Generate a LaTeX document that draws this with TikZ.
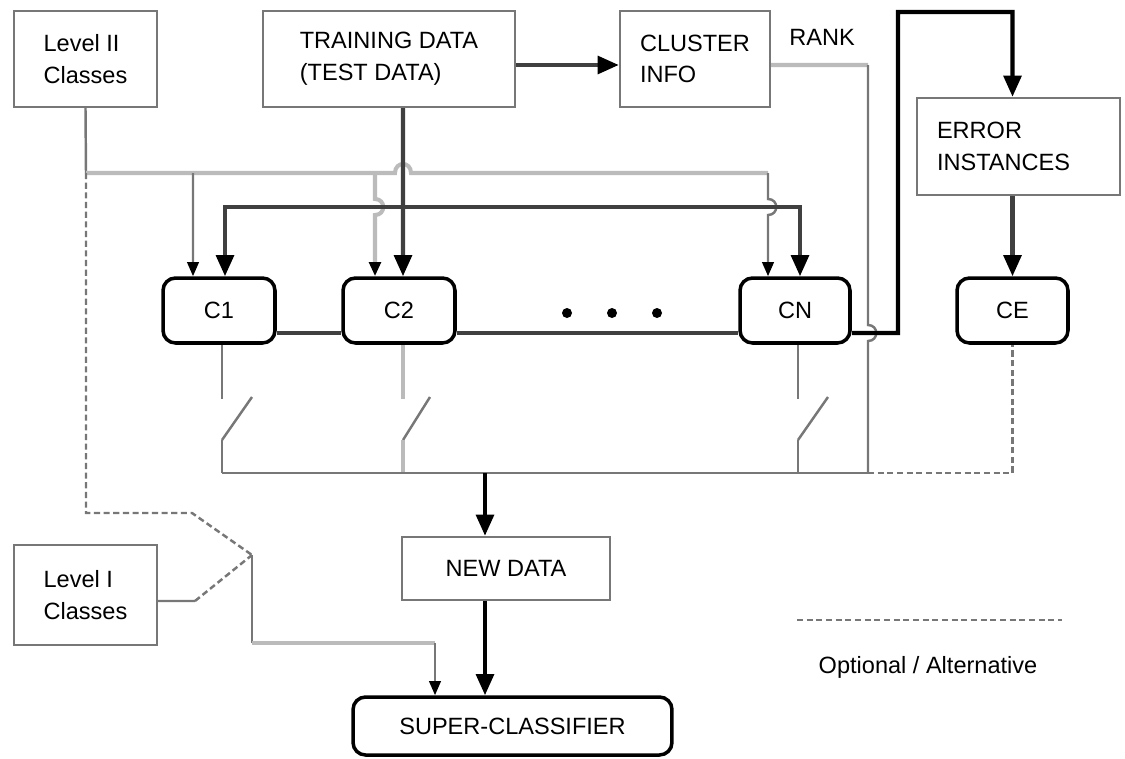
\documentclass[tikz,border=0pt]{standalone}
\usepackage{fontspec}
\setmainfont{Liberation Sans}
\usetikzlibrary{arrows.meta}
\definecolor{midgray}{HTML}{777777}
\definecolor{litegray}{HTML}{BBBBBB}
\definecolor{darkgray}{HTML}{404040}
\tikzset{
  every node/.style={font=\fontsize{13.4}{18}\selectfont},
  box/.style={rectangle,draw=midgray,line width=1.4pt,inner sep=0pt,align=left},
  rbox/.style={rectangle,draw=black,line width=2pt,rounded corners=0.25cm,inner sep=0pt},
  thinln/.style={draw=midgray,line width=1.4pt},
  liteln/.style={draw=litegray,line width=2.3pt},
  darkln/.style={draw=darkgray,line width=2.3pt},
  blackln/.style={draw=black,line width=2.3pt},
  optl/.style={dash pattern=on 3.5pt off 2pt},
  bigtip/.style={-{Triangle[length=12pt,width=10pt,color=black]}},
  smalltip/.style={-{Triangle[length=8pt,width=6.5pt,color=black]}}
}

\begin{document}
\begin{tikzpicture}[x=0.02cm,y=-0.02cm]
    \useasboundingbox (0,0) rectangle (1125,758);
    % boxes
    \node (lvtwo) at (85.5,59) [box,minimum width=2.86cm,minimum height=1.92cm] {Level II\\Classes};
    \node (train) at (389,59) [box,minimum width=5.04cm,minimum height=1.92cm] {TRAINING DATA\\(TEST DATA)};
    \node (clust) at (695,59) [box,minimum width=3cm,minimum height=1.92cm] {CLUSTER\\INFO};
    \node (rank) at (822,37) {RANK};
    \node (err) at (1018.5,146.5) [box,minimum width=4.06cm,minimum height=1.94cm,text width=3.26cm] {ERROR\\INSTANCES};
    \node (c1) at (219,310.5) [rbox,minimum width=2.24cm,minimum height=1.3cm] {C1};
    \node (c2) at (399,310.5) [rbox,minimum width=2.24cm,minimum height=1.3cm] {C2};
    \node (cn) at (795,310.5) [rbox,minimum width=2.2cm,minimum height=1.3cm] {CN};
    \node (ce) at (1012.5,310.5) [rbox,minimum width=2.22cm,minimum height=1.3cm] {CE};
    \node (newd) at (506,568.5) [box,minimum width=4.16cm,minimum height=1.26cm] {NEW DATA};
    \node (sup) at (512.5,726) [rbox,minimum width=6.38cm,minimum height=1.16cm] {SUPER-CLASSIFIER};
    \node (lvone) at (85.5,595) [box,minimum width=2.86cm,minimum height=2cm] {Level I\\Classes};
    \node (lgt) at (928,667) {Optional / Alternative};
    % junctions
    \coordinate (l2) at (86,173);
    \coordinate (ga) at (193,173);
    \coordinate (gb) at (375,173);
    \coordinate (gc) at (768,173);
    \coordinate (tj) at (403,207);
    \coordinate (rk) at (868,65);
    \coordinate (rkb) at (868,473);
    \coordinate (bus) at (485,473);
    \coordinate (s1) at (222,440);
    \coordinate (s2) at (403,440);
    \coordinate (s3) at (798,440);
    \coordinate (sw) at (252,555);
    \coordinate (sc) at (435,643);
    \coordinate (lga) at (797,620);
    \coordinate (lgb) at (1062,620);
    % top
    \draw[darkln,bigtip] ([yshift=-0.12cm]train.east) -- ([yshift=-0.12cm]clust.west);
    \draw[liteln] ([yshift=-0.12cm]clust.east) -- (rk);
    \draw[thinln] (rk) -- (868,325) .. controls (879,325) and (879,341) .. (868,341) -- (rkb);
    \draw[blackln,bigtip] ([yshift=-0.45cm]cn.east) -- (898,333) -- (898,12) -| (ce.north |- err.north);
    \draw[darkln,bigtip] (ce.north |- err.south) -- (ce.north);
    % level II classes
    \draw[thinln] (lvtwo.south) -- (l2);
    \draw[liteln] (l2) -- (395,173) .. controls (395,161) and (411,161) .. (411,173) -- (gc);
    \draw[thinln,smalltip] (ga) -- ([xshift=-0.52cm]c1.north);
    \draw[liteln,smalltip] (gb) -- (375,199) .. controls (386,199) and (386,215) .. (375,215) -- ([xshift=-0.48cm]c2.north);
    \draw[thinln,smalltip] (gc) -- (768,199) .. controls (779,199) and (779,215) .. (768,215) -- ([xshift=-0.54cm]cn.north);
    % training data
    \draw[darkln,bigtip] (tj |- train.south) -- ([xshift=0.08cm]c2.north);
    \draw[darkln,bigtip] (tj) -| ([xshift=0.12cm]c1.north);
    \draw[darkln,bigtip] (tj) -| ([xshift=0.1cm]cn.north);
    % classifiers
    \draw[darkln] ([yshift=-0.45cm]c1.east) -- ([yshift=-0.45cm]c2.west);
    \draw[darkln] ([yshift=-0.45cm]c2.east) -- ([yshift=-0.45cm]cn.west);
    \foreach \x in {567,612,657}
      \fill (\x,313) circle (5);
    % switches
    \draw[thinln] ([xshift=0.06cm]c1.south) -- ++(0,54);
    \draw[thinln] (s1) -- ++(30,-43);
    \draw[thinln] (s1) -- (s1 |- bus);
    \draw[liteln] ([xshift=0.08cm]c2.south) -- ++(0,54);
    \draw[thinln] (s2) -- ++(27,-43);
    \draw[liteln] (s2) -- (s2 |- bus);
    \draw[thinln] ([xshift=0.06cm]cn.south) -- ++(0,54);
    \draw[thinln] (s3) -- ++(30,-43);
    \draw[thinln] (s3) -- (s3 |- bus);
    \draw[thinln] (s1 |- bus) -- (rkb);
    \draw[thinln,optl] (rkb) -| (ce.south);
    \draw[blackln,bigtip] (bus) -- (bus |- newd.north);
    \draw[blackln,bigtip] (bus |- newd.south) -- (bus |- sup.north);
    % level I / level II selector
    \draw[thinln,optl] (l2) -- (86,513) -- (192,513) -- (sw);
    \draw[thinln] ([yshift=-0.12cm]lvone.east) -- (195,601);
    \draw[thinln,optl] (195,601) -- (sw);
    \draw[thinln] (sw) -- (sw |- sc);
    \draw[liteln] (sw |- sc) -- (sc);
    \draw[thinln,smalltip] (sc) -- (sc |- sup.north);
    % legend
    \draw[thinln,optl] (lga) -- (lgb);
\end{tikzpicture}
\end{document}
